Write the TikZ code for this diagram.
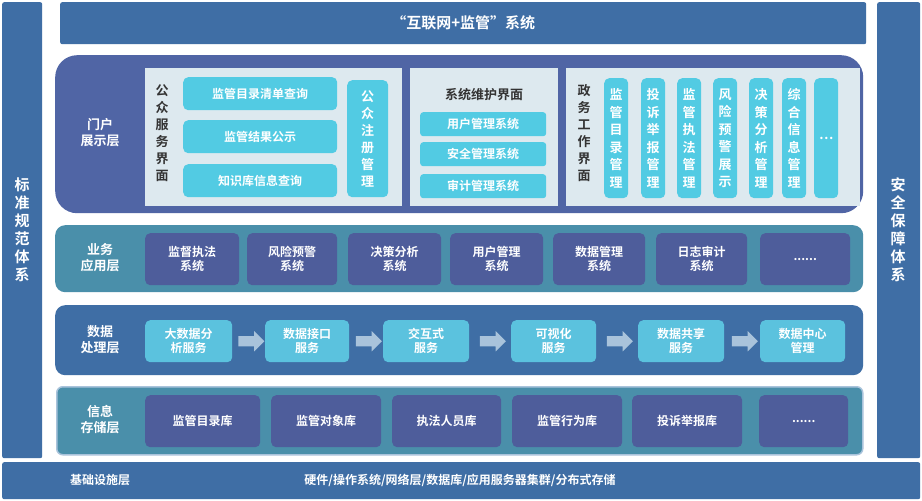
\documentclass[tikz,border=0pt]{standalone}
\usepackage{fontspec}
\setmainfont{Noto Sans CJK SC}[BoldFont={Noto Sans CJK SC Bold}]
\usetikzlibrary{shapes.arrows}
\newcommand\mysixdots{......}
\definecolor{sidebar}{HTML}{3F6EA5}
\definecolor{portal}{HTML}{5065A5}
\definecolor{panel}{HTML}{DDE9EF}
\definecolor{cyanb}{HTML}{52CBE3}
\definecolor{bizbg}{HTML}{4A8FAA}
\definecolor{darkb}{HTML}{4E5D9B}
\definecolor{databg}{HTML}{3F6EA5}
\definecolor{datab}{HTML}{5BC2DE}
\definecolor{arr}{HTML}{A9C3DB}
\definecolor{txtd}{HTML}{333333}
\begin{document}
\begin{tikzpicture}[x=1pt,y=-1pt,font=\bfseries\fontsize{12}{14}\selectfont,
 box/.style={fill=#1,draw=none,text=white,align=center,inner sep=0pt},
 rbox/.style={box=#1,rounded corners=5pt}]
\useasboundingbox (0,0) rectangle (922,501);
\fill[white] (0,0) rectangle (922,501);
% side bars
\node[box=sidebar,minimum width=40pt,minimum height=456pt,anchor=north west,rounded corners=2pt] (lbar) at (2,2) {};
\node[text=white,align=center,font=\bfseries\fontsize{15}{18}\selectfont] (lbt) at (22,230) {标\\准\\规\\范\\体\\系};
\node[box=sidebar,minimum width=43pt,minimum height=456pt,anchor=north west,rounded corners=2pt] (rbar) at (877,2) {};
\node[text=white,align=center,font=\bfseries\fontsize{15}{18}\selectfont] (rbt) at (898,230) {安\\全\\保\\障\\体\\系};
\node[box=sidebar,minimum width=806pt,minimum height=42pt,anchor=north west,rounded corners=2pt,font=\bfseries\fontsize{15}{17}\selectfont] (title) at (60,2) {“互联网+监管”系统};
% portal
\node[box=portal,minimum width=808pt,minimum height=158pt,anchor=north west,rounded corners=22pt] (portal) at (55,55) {};
\node[text=white,align=center,font=\bfseries\fontsize{13}{16}\selectfont] (pl) at (100,133) {门户\\展示层};
\node[box=panel,minimum width=257pt,minimum height=138pt,anchor=north west] (p1) at (145,68) {};
\node[text=txtd,align=center,font=\bfseries\fontsize{13}{17}\selectfont] (p1t) at (162,133) {公\\众\\服\\务\\界\\面};
\foreach \y/\t/\n in {77/监管目录清单查询/a,120/监管结果公示/b,164/知识库信息查询/c}
  \node[rbox=cyanb,minimum width=154pt,minimum height=33pt,anchor=north west] (q\n) at (183,\y) {\t};
\node[rbox=cyanb,minimum width=41pt,minimum height=117pt,anchor=north west,font=\bfseries\fontsize{13}{17}\selectfont] (reg) at (347,80) {公\\众\\注\\册\\管\\理};
\node[box=panel,minimum width=148pt,minimum height=138pt,anchor=north west] (p2) at (410,68) {};
\node[text=txtd,font=\bfseries\fontsize{13}{15}\selectfont] (p2t) at (484,95) {系统维护界面};
\foreach \y/\t/\n in {112/用户管理系统/a,142/安全管理系统/b,174/审计管理系统/c}
  \node[rbox=cyanb,rounded corners=3pt,minimum width=126pt,minimum height=24pt,anchor=north west] (m\n) at (420,\y) {\t};
\node[box=panel,minimum width=294pt,minimum height=138pt,anchor=north west] (p3) at (566,68) {};
\node[text=txtd,align=center,font=\bfseries\fontsize{13}{17}\selectfont] (p3t) at (584,133) {政\\务\\工\\作\\界\\面};
\foreach \x/\t/\n in {604/监\\管\\目\\录\\管\\理/a,641/投\\诉\\举\\报\\管\\理/b,677/监\\管\\执\\法\\管\\理/c,713/风\\险\\预\\警\\展\\示/d,749/决\\策\\分\\析\\管\\理/e,782/综\\合\\信\\息\\管\\理/f,814/…/g}
  \node[rbox=cyanb,minimum width=24pt,minimum height=120pt,anchor=north west,font=\bfseries\fontsize{13}{17.5}\selectfont] (g\n) at (\x,78) {\t};
% business
\node[box=bizbg,minimum width=808pt,minimum height=67pt,anchor=north west,rounded corners=10pt] (biz) at (55,225) {};
\node[text=white,align=center,font=\bfseries\fontsize{13}{16}\selectfont] (bl) at (100,258) {业务\\应用层};
\foreach \x/\w/\t/\n in {145/94/监督执法\\系统/a,247/90/风险预警\\系统/b,348/93/决策分析\\系统/c,450/93/用户管理\\系统/d,553/92/数据管理\\系统/e,656/91/日志审计\\系统/f,760/90/\mysixdots/g}
  \node[rbox=darkb,minimum width=\w pt,minimum height=52pt,anchor=north west] (b\n) at (\x,233) {\t};
% data
\node[box=databg,minimum width=808pt,minimum height=70pt,anchor=north west,rounded corners=10pt] (dat) at (55,305) {};
\node[text=white,align=center,font=\bfseries\fontsize{13}{16}\selectfont] (dl) at (100,340) {数据\\处理层};
\foreach \x/\w/\t/\n in {145/87/大数据分\\析服务/a,265/84/数据接口\\服务/b,383/86/交互式\\服务/c,511/85/可视化\\服务/d,638/86/数据共享\\服务/e,760/85/数据中心\\管理/f}
  \node[rbox=datab,minimum width=\w pt,minimum height=42pt,anchor=north west] (d\n) at (\x,320) {\t};
\foreach \a/\b in {a/b,b/c,c/d,d/e,e/f}
  \path (d\a.east) -- (d\b.west) node[midway,single arrow,fill=arr,draw=none,minimum height=26pt,inner sep=5pt,single arrow head extend=5pt] (ar\a) {};
% storage
\node[box=bizbg,draw=arr,line width=1.5pt,minimum width=806pt,minimum height=68pt,anchor=north west,rounded corners=6pt] (sto) at (56,386) {};
\node[text=white,align=center,font=\bfseries\fontsize{13}{16}\selectfont] (sl) at (100,420) {信息\\存储层};
\foreach \x/\w/\t/\n in {145/115/监管目录库/a,271/110/监管对象库/b,392/109/执法人员库/c,512/110/监管行为库/d,632/110/投诉举报库/e,759/89/\mysixdots/f}
  \node[rbox=darkb,minimum width=\w pt,minimum height=52pt,anchor=north west] (s\n) at (\x,395) {\t};
% bottom
\node[box=sidebar,minimum width=918pt,minimum height=37pt,anchor=north west,rounded corners=2pt] (base) at (2,462) {};
\node[text=white] (bt) at (100,480) {基础设施层};
\node[text=white] (bd) at (460,480) {硬件/操作系统/网络层/数据库/应用服务器集群/分布式存储};
\end{tikzpicture}
\end{document}
